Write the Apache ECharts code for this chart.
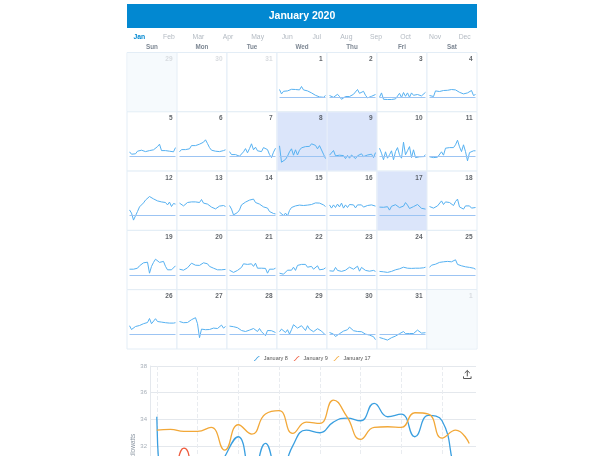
<!DOCTYPE html>
<html><head><meta charset="utf-8">
<script src="https://cdn.jsdelivr.net/npm/echarts@6/dist/echarts.min.js"></script>
<style>html,body{margin:0;padding:0;overflow:hidden;background:#fff}#c{width:604px;height:600px}</style>
</head><body><div id="c"></div><script>
const hours = ['00:00','01:00','02:00','03:00','04:00','05:00','06:00','07:00','08:00','09:00','10:00','11:00','12:00','13:00','14:00','15:00','16:00','17:00','18:00','19:00','20:00','21:00','22:00','23:00'];
const monthNames = ['Jan','Feb','Mar','Apr','May','Jun','Jul','Aug','Sep','Oct','Nov','Dec'];
const weekdayNames = ['Sun','Mon','Tue','Wed','Thu','Fri','Sat'];
const titleText = 'January 2020';

const jan01 = [32.7,30.5,31.8,31.3,32.0,31.7,32.8,32.2,32.7,33.7,32.5,34.2,32.5,32.8,32.0,31.7,31.0,30.3,29.8,29.5,29.0,28.3,28.8,29.7];
const jan02 = [29.7,29.0,28.8,29.5,30.3,29.2,27.8,28.5,29.2,29.7,29.2,30.2,30.3,31.3,32.7,30.8,30.3,31.8,29.8,28.5,28.8,29.3,29.8,30.2];
const jan03 = [28.8,31.0,27.8,28.0,27.7,27.5,27.7,27.8,28.0,28.8,30.8,28.7,31.2,29.3,31.0,28.8,31.0,29.8,28.8,30.2,30.8,29.5,30.5,31.3];
const jan04 = [29.7,30.3,29.2,32.0,31.3,31.7,32.0,32.2,31.8,32.3,32.5,32.7,32.8,32.5,32.2,31.3,30.8,30.5,30.7,31.0,31.0,32.2,29.7,30.2];
const jan05 = [31.2,30.0,29.2,30.2,31.5,30.7,32.0,32.8,31.3,32.0,31.8,32.2,32.2,32.7,33.8,35.0,31.8,32.3,31.8,32.0,31.5,32.0,31.2,33.3];
const jan06 = [31.2,32.3,31.5,32.3,33.0,32.7,34.3,34.0,34.3,34.7,35.0,35.5,36.0,37.2,35.3,33.3,32.0,32.7,31.5,32.0,31.3,31.5,31.8,32.2];
const jan07 = [31.3,29.8,30.3,29.8,29.2,29.0,30.0,31.2,32.8,30.7,32.8,35.2,32.2,33.5,31.7,32.3,31.3,33.3,32.3,32.3,29.8,28.3,31.0,33.0];
const jan08 = [34.2,26.0,26.8,27.4,29.0,31.2,32.7,29.5,32.2,29.6,32.0,33.2,33.0,33.8,34.1,33.9,35.2,34.2,34.4,32.7,34.3,33.9,30.0,27.8];
const jan09 = [29.5,29.8,31.85,29.2,28.8,29.5,28.7,29.3,27.8,29.4,28.0,29.6,30.3,27.8,29.2,28.3,30.2,28.8,27.8,29.6,29.0,30.0,28.3,30.8];
const jan10 = [33.0,30.5,27.2,31.2,28.0,29.7,31.7,27.2,31.3,33.3,29.7,28.0,36.0,29.7,31.7,33.8,28.3,32.2,28.3,29.2,28.7,29.3,28.8,29.7];
const jan11 = [28.7,29.5,28.3,28.8,28.5,28.7,31.2,29.5,33.0,33.8,33.3,32.3,33.3,34.7,37.0,33.7,31.3,34.7,31.3,26.7,30.8,31.7,31.7,31.7];
const jan12 = [31.8,30.2,26.7,27.7,31.0,33.3,34.3,35.3,36.7,37.7,38.5,38.0,37.3,36.7,36.3,36.0,35.8,35.5,35.5,34.3,35.7,33.5,35.0,34.7];
const jan13 = [35.2,34.2,33.8,34.3,35.5,35.2,35.8,35.7,35.8,36.3,35.5,37.0,35.2,35.5,34.7,34.2,33.2,32.3,32.3,33.0,33.7,34.3,34.0,33.5];
const jan14 = [34.0,32.2,29.3,30.2,30.5,31.8,34.3,35.0,35.7,36.3,36.7,35.7,37.2,35.5,36.0,34.7,34.3,33.3,34.0,32.7,31.0,30.2,30.0,29.8];
const jan15 = [30.7,29.7,29.0,30.2,28.8,31.5,33.0,32.3,33.8,33.5,34.2,34.2,34.0,34.7,34.2,35.2,34.5,35.2,35.3,35.5,35.2,35.0,34.3,33.5];
const jan16 = [34.3,32.7,34.3,33.0,34.7,33.3,35.2,32.7,34.3,33.0,34.5,35.5,34.3,32.8,34.3,35.2,34.3,33.2,33.2,34.0,33.7,34.3,33.3,33.7];
const jan17 = [33.2,33.25,33.1,33.1,33.4,31.7,33.6,32.9,34.4,34.65,32.95,33.8,33.7,35.45,34.2,32.5,33.4,33.45,33.4,34.5,34.4,32.6,33.2,32.2];
const jan18 = [33.5,33.0,32.7,33.2,33.8,34.7,36.3,34.5,35.8,35.2,35.5,36.3,34.0,36.0,37.2,33.3,34.0,32.2,33.8,34.5,33.8,32.7,33.0,33.0];
const jan19 = [31.8,31.0,31.8,32.7,32.3,33.5,34.5,35.0,35.3,35.3,29.8,33.2,35.2,36.8,35.8,35.2,34.8,35.7,33.2,31.5,32.3,31.5,32.5,33.5];
const jan20 = [31.8,31.3,31.3,31.8,32.5,33.5,34.8,35.3,33.8,33.2,33.7,34.3,35.0,35.3,34.5,33.2,32.5,32.3,32.0,31.5,31.8,31.5,31.8,31.7];
const jan21 = [31.3,30.5,30.2,30.3,31.2,31.5,32.7,34.5,33.8,34.2,34.0,34.5,33.2,34.8,32.3,32.8,32.3,31.8,32.2,29.8,31.8,31.3,31.8,32.3];
const jan22 = [29.8,30.3,29.3,30.3,31.3,31.7,31.3,32.8,31.2,33.7,33.8,34.2,34.7,34.2,32.8,33.5,33.2,31.8,32.8,33.5,31.5,31.2,31.8,32.5];
const jan23 = [31.0,31.5,30.8,32.7,31.2,30.7,30.7,31.0,31.3,31.8,32.8,33.2,31.8,31.5,33.3,30.8,32.7,33.3,31.2,31.8,30.8,30.7,31.2,30.7];
const jan24 = [30.7,31.0,30.5,31.0,30.2,30.8,30.7,31.2,31.5,31.5,32.0,32.3,32.8,32.5,32.3,32.8,32.2,32.0,32.3,31.8,32.3,32.2,32.5,32.8];
const jan25 = [32.7,33.8,33.7,34.3,34.2,35.2,36.0,35.5,34.5,35.7,35.2,35.5,35.7,36.5,34.2,33.2,33.5,34.3,33.0,33.8,32.7,32.5,32.3,31.8];
const jan26 = [33.2,31.3,32.2,32.8,33.2,33.3,33.8,34.2,34.5,34.8,36.8,34.2,35.0,36.7,35.3,36.2,35.0,34.8,34.7,34.5,34.5,34.3,34.5,34.7];
const jan27 = [35.3,35.0,34.7,34.5,34.8,35.5,36.2,35.3,37.2,34.2,27.2,31.5,30.5,31.2,31.8,31.3,32.2,32.0,32.5,31.8,32.5,33.5,32.0,32.8];
const jan28 = [33.0,33.7,32.7,33.0,32.2,31.8,30.8,31.2,30.3,30.5,31.0,31.3,31.8,32.8,30.3,31.8,30.2,31.2,28.2,30.8,29.8,30.7,30.3,29.8];
const jan29 = [30.2,31.5,30.8,29.8,31.2,29.0,31.2,33.7,32.7,32.0,32.2,33.2,33.8,30.8,33.2,31.5,32.2,30.2,29.5,31.7,30.7,30.5,29.8,28.5];
const jan30 = [29.8,29.5,29.0,27.8,28.2,29.2,29.7,30.5,30.2,31.2,32.5,31.5,30.7,30.7,30.3,30.0,30.2,29.7,29.0,29.5,28.5,28.2,27.7,26.2];
const jan31 = [27.3,27.0,26.7,26.3,26.0,26.5,27.2,27.5,28.0,28.5,29.2,29.7,30.3,29.2,29.7,29.3,28.5,29.3,30.3,31.0,30.2,29.5,29.8,29.7];

const days = [jan01,jan02,jan03,jan04,jan05,jan06,jan07,jan08,jan09,jan10,jan11,jan12,jan13,jan14,jan15,jan16,jan17,jan18,jan19,jan20,jan21,jan22,jan23,jan24,jan25,jan26,jan27,jan28,jan29,jan30,jan31];
const selectedDays = [8, 9, 17];
const compareNames = ['January 8','January 9','January 17'];
const compareSeries = [jan08, jan09, jan17];
const compareColors = ['#3a9fe0','#ee5b3d','#f2a838'];
const baselineKw = 29;
const leadDates = ['2019-12-29','2019-12-30','2019-12-31'];
const trailDates = ['2020-02-01'];

const CAL = {left:127, top:52.5, cw:50, ch:59.3};
const FONT = '"Liberation Sans", Arial, sans-serif';

function pad(n){return n<10?'0'+n:''+n;}
const janDates = days.map((_, i) => '2020-01-' + pad(i + 1));

const fillData = [];
fillData.push({value:[leadDates[0],1], itemStyle:{color:'#f4f9fd'}});
fillData.push({value:[trailDates[0],1], itemStyle:{color:'#f4f9fd'}});
selectedDays.forEach(d => fillData.push({value:[janDates[d-1],1], itemStyle:{color:'#d2dff9'}}));

const numData = [];
leadDates.forEach(ds => numData.push({value:[ds, +ds.slice(8)], label:{color:'#cfd3d8'}}));
janDates.forEach((ds, i) => numData.push({value:[ds, i+1], label:{color:'#3a3f45'}}));
trailDates.forEach(ds => numData.push({value:[ds, +ds.slice(8)], label:{color:'#cfd3d8'}}));

const grids = [{left:150, top:366, width:326, height:160.2}];
const xAxes = [{
  gridIndex:0, type:'category', data:hours, boundaryGap:true,
  axisLine:{show:false}, axisTick:{show:false},
  axisLabel:{show:true, fontSize:6, color:'#a6aeb8', interval:2},
  splitLine:{show:true, interval:2, alignWithLabel:true, lineStyle:{color:'#e9ecf0', type:'dashed', width:1}}
}];
const yAxes = [{
  gridIndex:0, type:'value', min:26, max:38, interval:2,
  name:'kilowatts', nameLocation:'middle', nameGap:13, nameMoveOverlap:false,
  nameTextStyle:{fontSize:6.5, color:'#8a95a1'},
  axisLine:{show:true, lineStyle:{color:'#e4e8ed'}}, axisTick:{show:false},
  axisLabel:{fontSize:6, color:'#a6aeb8', margin:3},
  splitLine:{lineStyle:{color:'#e4e8ed'}}
}];
const series = [];

series.push({type:'scatter', coordinateSystem:'calendar', symbol:'rect', symbolSize:[49,58.3], silent:true, z:3, data:fillData, animation:false});

days.forEach((arr, i) => {
  const k = i + 3;
  const row = Math.floor(k / 7), col = k % 7;
  const cl = CAL.left + col * CAL.cw, ct = CAL.top + row * CAL.ch;
  grids.push({left: cl + 2.5, top: ct + 18.4, width: 46, height: 40});
  xAxes.push({gridIndex:i+1, type:'category', data:hours, boundaryGap:false, show:false});
  yAxes.push({gridIndex:i+1, type:'value', min:22, max:42, show:false, splitLine:{show:false}});
  series.push({
    type:'line', xAxisIndex:i+1, yAxisIndex:i+1, data:arr, symbol:'none', silent:true, z:4,
    lineStyle:{width:1, color:'#56b1f1'}, animation:false,
    markLine:{silent:true, symbol:['none','none'], label:{show:false}, animation:false,
      lineStyle:{color:'#9cc4f3', type:'solid', width:1}, data:[{yAxis:baselineKw}]}
  });
});

series.push({type:'scatter', coordinateSystem:'calendar', symbolSize:1, silent:true, z:5,
  itemStyle:{color:'rgba(0,0,0,0)'}, animation:false,
  label:{show:true, position:'inside', offset:[20.5,-23], align:'right', verticalAlign:'middle',
    fontSize:6.5, fontWeight:'bold', formatter: p => p.value[1]},
  data:numData});

compareSeries.forEach((arr, j) => {
  series.push({type:'line', name:compareNames[j], xAxisIndex:0, yAxisIndex:0, smooth:true,
    symbol:'none', showSymbol:false, data: arr, z:6,
    lineStyle:{width:1.3, color:compareColors[j]}, itemStyle:{color:compareColors[j]}, animation:false});
});

const graphic = [
  {type:'rect', shape:{x:127, y:4, width:350, height:24}, style:{fill:'#0288d1'}, silent:true},
  {type:'text', x:302, y:16, silent:true, style:{text:titleText, fill:'#ffffff', font:'bold 10.5px ' + FONT, textAlign:'center', textVerticalAlign:'middle'}}
];
monthNames.forEach((m, i) => {
  graphic.push({type:'text', x:139.3 + i * 29.58, y:37.3, silent:true,
    style:{text:m, fill: i === 0 ? '#0288d1' : '#b3bac2', font:(i === 0 ? 'bold ' : '') + '6.8px ' + FONT, textAlign:'center', textVerticalAlign:'middle'}});
});

const option = {
  animation:false,
  textStyle:{fontFamily:FONT},
  calendar:{
    orient:'vertical', left:CAL.left, top:CAL.top, cellSize:[CAL.cw, CAL.ch],
    range:['2019-12-29','2020-02-01'],
    splitLine:{show:false},
    itemStyle:{color:'#ffffff', borderColor:'#e3edf6', borderWidth:1},
    dayLabel:{firstDay:0, nameMap:weekdayNames, position:'start', margin:2, fontSize:6.3, color:'#7d8793', fontWeight:'bold'},
    monthLabel:{show:false}, yearLabel:{show:false}
  },
  legend:{left:249, top:350.5, itemWidth:10, itemHeight:5, itemGap:6, data:compareNames,
    icon:'path://M0,8.6 C4,8.6 5,1 10,1 L10,2.6 C6,2.6 5,10.2 0,10.2 Z',
    textStyle:{fontSize:5.5, color:'#555', padding:[0,0,0,-3]}},
  toolbox:{left:446, top:353, itemSize:8, iconStyle:{borderColor:'#555', borderWidth:1},
    feature:{saveAsImage:{title:' ', icon:'path://M5,0 L5,7 M2,3 L5,0 L8,3 M0.5,7 L0.5,9.5 L9.5,9.5 L9.5,7'}}},
  grid:grids, xAxis:xAxes, yAxis:yAxes, series:series, graphic:graphic
};
const chart = echarts.init(document.getElementById('c'), null, {renderer:'canvas'});
chart.setOption(option);
</script></body></html>
